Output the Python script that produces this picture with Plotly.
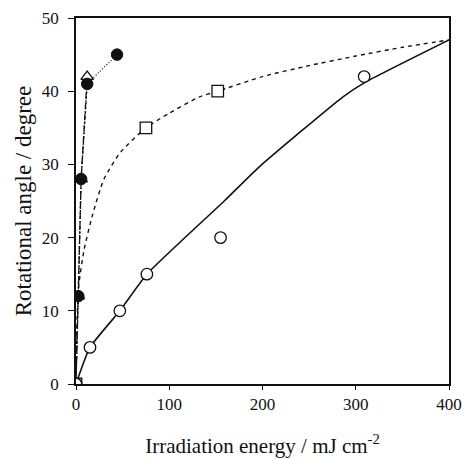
import plotly.graph_objects as go

# Open circles (data) and their solid fit curve
circ_x = [0, 15, 47, 76, 155, 309]
circ_y = [0, 5, 10, 15, 20, 42]
circ_fit_x = [0, 15, 47, 76, 159, 196, 286, 310, 400]
circ_fit_y = [0, 5, 10, 15, 25, 29.6, 39.2, 41.2, 47]

# Open squares (data) and their dashed fit curve
sq_x = [0, 75, 152]
sq_y = [0, 35, 40]
sq_fit_x = [0, 1, 3, 8.6, 17.5, 30, 48, 75, 100, 132, 152, 200, 250, 300, 350, 400]
sq_fit_y = [0, 8, 13.5, 18.3, 23, 28, 31.7, 35, 37, 39.2, 40, 42, 43.5, 44.8, 46, 47]

# Filled circles
fc_x = [0, 2.5, 5.5, 12, 44]
fc_y = [0, 12, 28, 41, 45]

# Open triangles
tri_x = [0, 2.5, 5.5, 12]
tri_y = [0, 12, 28, 42]

# Tick labels
x_ticks = [0, 100, 200, 300, 400]
y_ticks = [0, 10, 20, 30, 40, 50]

black = "#111111"
fig = go.Figure()

fig.add_trace(go.Scatter(x=circ_fit_x, y=circ_fit_y, mode="lines",
                         line=dict(color=black, width=1.6, shape="spline", smoothing=0.5),
                         hoverinfo="skip"))
fig.add_trace(go.Scatter(x=sq_fit_x, y=sq_fit_y, mode="lines",
                         line=dict(color=black, width=1.4, dash="4px,4px", shape="spline", smoothing=0.6),
                         hoverinfo="skip"))
fig.add_trace(go.Scatter(x=tri_x, y=tri_y, mode="lines",
                         line=dict(color=black, width=1.3, dash="6px,2px,1px,2px"),
                         hoverinfo="skip"))
fig.add_trace(go.Scatter(x=fc_x[:4], y=fc_y[:4], mode="lines",
                         line=dict(color=black, width=1.3, dash="3px,2px"),
                         hoverinfo="skip"))
fig.add_trace(go.Scatter(x=fc_x[3:], y=fc_y[3:], mode="lines",
                         line=dict(color=black, width=1.2, dash="1px,2px"),
                         hoverinfo="skip"))

fig.add_trace(go.Scatter(x=tri_x, y=tri_y, mode="markers",
                         marker=dict(symbol="triangle-up", size=11, color="white",
                                     line=dict(color=black, width=1.3))))
fig.add_trace(go.Scatter(x=fc_x, y=fc_y, mode="markers",
                         marker=dict(symbol="circle", size=11.5, color=black,
                                     line=dict(color=black, width=1))))
fig.add_trace(go.Scatter(x=sq_x, y=sq_y, mode="markers",
                         marker=dict(symbol="square", size=11.5, color="white",
                                     line=dict(color=black, width=1.3))))
fig.add_trace(go.Scatter(x=circ_x, y=circ_y, mode="markers",
                         marker=dict(symbol="circle", size=11.5, color="white",
                                     line=dict(color=black, width=1.3))))

font = dict(family="Liberation Serif, Times New Roman, serif", size=17, color=black)

fig.update_layout(
    width=465, height=459,
    margin=dict(l=76, r=16, t=18, b=75),
    paper_bgcolor="white", plot_bgcolor="white",
    showlegend=False,
    font=font,
)
fig.update_xaxes(
    range=[0, 400], tickvals=x_ticks, ticktext=[str(v) for v in x_ticks],
    showgrid=False, zeroline=False, automargin=False,
    showline=True, linecolor=black, linewidth=1.5, mirror=True,
    ticks="outside", ticklen=4, tickcolor=black,
    title=dict(text="Irradiation energy / mJ cm<sup>-2</sup>", font=dict(size=21), standoff=25),
    tickfont=dict(size=17),
)
fig.update_yaxes(
    range=[0, 50], tickvals=y_ticks, ticktext=[str(v) for v in y_ticks],
    showgrid=False, zeroline=False, automargin=False,
    showline=True, linecolor=black, linewidth=1.5, mirror=True,
    ticks="outside", ticklen=6, tickcolor=black, ticklabelstandoff=6,
    title=dict(text="Rotational angle / degree", font=dict(size=23), standoff=4),
    tickfont=dict(size=17),
)

fig.write_html("out.html")
